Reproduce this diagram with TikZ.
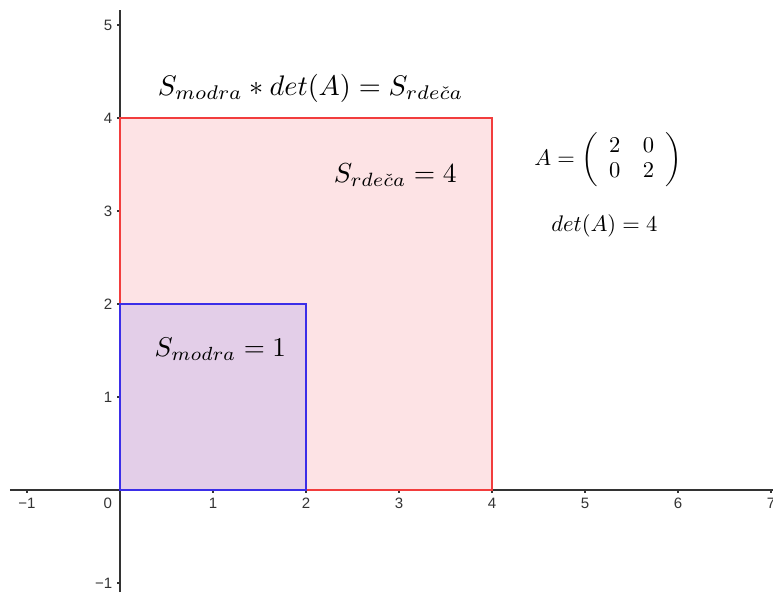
\documentclass[tikz,border=0pt]{standalone}
\usepackage{fontspec}
\usepackage{tikz}
\newfontfamily\tickfont{Liberation Sans}
\definecolor{sqRed}{HTML}{F23D3D}
\definecolor{sqRedFill}{HTML}{FDE3E5}
\definecolor{sqBlue}{HTML}{3B2EE8}
\definecolor{sqBlueFill}{HTML}{E3CEE8}
\definecolor{axisGray}{HTML}{333333}
\tikzset{
  ticklabel/.style={font=\tickfont\fontsize{4.6}{5}\selectfont, text=axisGray, inner sep=0pt},
  mathlabel/.style={font=\fontsize{10}{11}\selectfont, inner sep=0pt, transform shape}
}

\begin{document}
\begin{tikzpicture}
\useasboundingbox (-1.290,-1.097) rectangle (7.022,5.269);
% axes
\draw[axisGray, line width=0.35pt] (-1.183,0) -- (7.03,0);
\draw[axisGray, line width=0.35pt] (0,-1.097) -- (0,5.161);
\foreach \x in {-1,1,2,...,7}
  \draw[axisGray, line width=0.35pt] (\x,0) -- (\x,-0.035);
\foreach \y in {-1,1,2,...,5}
  \draw[axisGray, line width=0.35pt] (0,\y) -- (-0.035,\y);
\foreach \x/\t in {-1/−1,1/1,2/2,3/3,4/4,5/5,6/6,7/7}
  \node[ticklabel] (tx\x) at (\x,-0.14) {\t};
\node[ticklabel] (t0) at (-0.13,-0.14) {0};
\foreach \y/\t in {-1/−1,1/1,2/2,3/3,4/4,5/5}
  \node[ticklabel, anchor=east] (ty\y) at (-0.075,\y) {\t};
% squares
\fill[sqRedFill] (0,0) rectangle (4,4);
\draw[sqRed, line width=0.75pt] (0,0) rectangle (4,4);
\fill[sqBlueFill] (0,0) rectangle (2,2);
\draw[sqBlue, line width=0.75pt] (0,0) rectangle (2,2);
% labels
\node[mathlabel, scale=0.865] (title) at (2.05,4.32) {$S_{modra} * det(A) = S_{rde\check{c}a}$};
\node[mathlabel, scale=0.84] (sred) at (2.96,3.39) {$S_{rde\check{c}a} = 4$};
\node[mathlabel, scale=0.83] (sblue) at (1.08,1.51) {$S_{modra} = 1$};
\node[mathlabel, scale=0.69] (matA) at (5.25,3.55)
  {$A = \left( \begin{array}{cc} 2 & 0 \\ 0 & 2 \end{array} \right)$};
\node[mathlabel, scale=0.69] (detA) at (5.21,2.84) {$det(A) = 4$};
\end{tikzpicture}
\end{document}
